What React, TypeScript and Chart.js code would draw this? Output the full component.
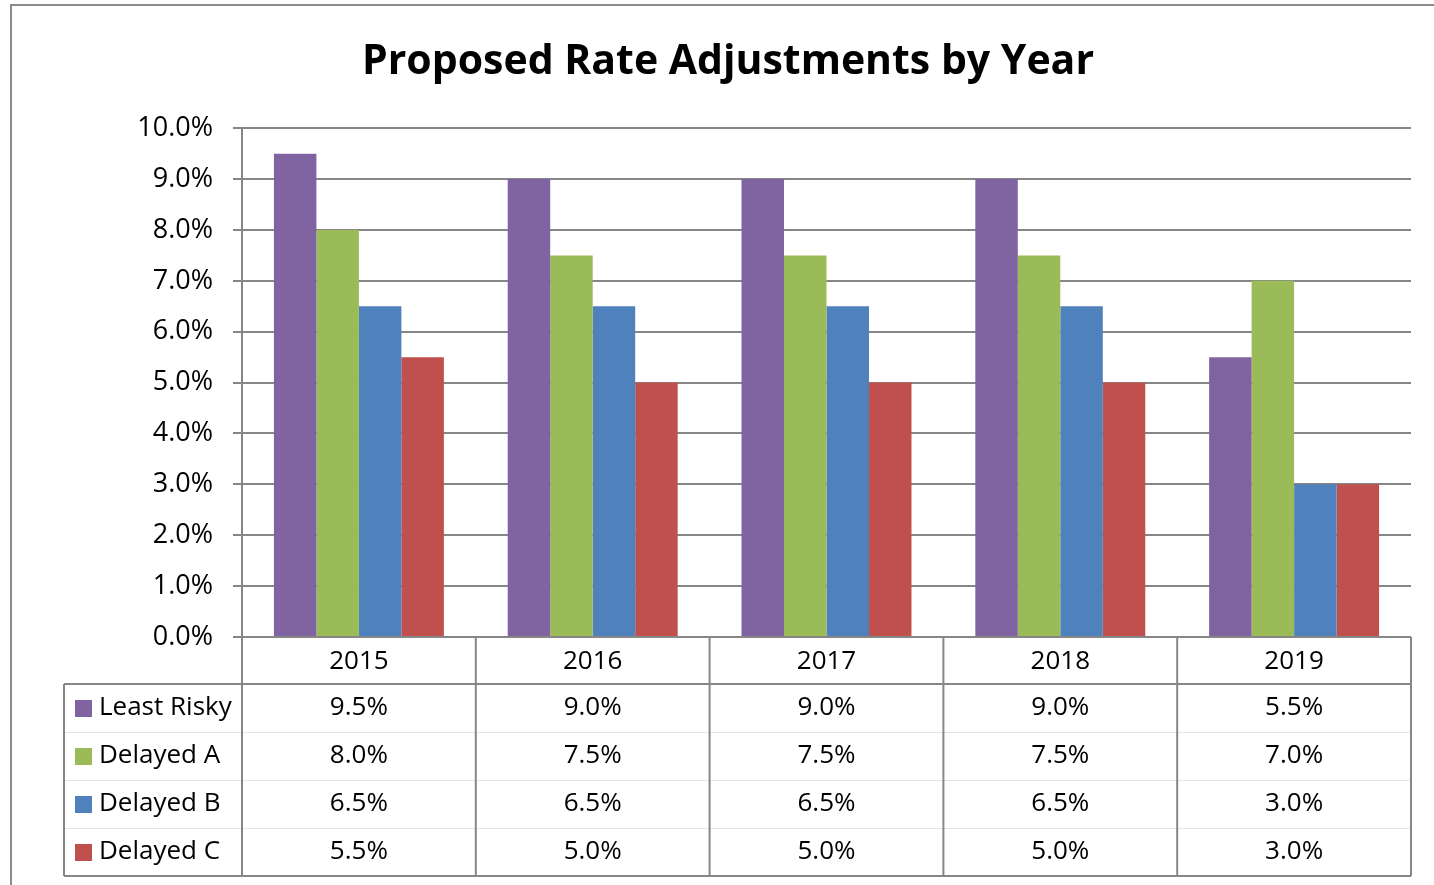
import React, { useEffect, useRef } from "react";
import { Chart, registerables } from "chart.js";

Chart.register(...registerables);

const years = ["2015", "2016", "2017", "2018", "2019"];
const seriesNames = ["Least Risky", "Delayed A", "Delayed B", "Delayed C"];
const seriesColors = ["#8064A2", "#9BBB59", "#4F81BD", "#C0504D"];
const leastRisky = [9.5, 9.0, 9.0, 9.0, 5.5];
const delayedA = [8.0, 7.5, 7.5, 7.5, 7.0];
const delayedB = [6.5, 6.5, 6.5, 6.5, 3.0];
const delayedC = [5.5, 5.0, 5.0, 5.0, 3.0];
const yTicksMin = 0;
const yTicksMax = 10;
const yTicksStep = 1;
const chartTitle = "Proposed Rate Adjustments by Year";

const seriesValues = [leastRisky, delayedA, delayedB, delayedC];
const FONT = "'Open Sans', 'DejaVu Sans', sans-serif";
const GRID = "#868686";

const fmt = (v: number) => v.toFixed(1) + "%";

const framePlugin = {
  id: "frame",
  beforeDraw(chart: any) {
    const ctx = chart.ctx;
    ctx.save();
    ctx.strokeStyle = "#8c8c8c";
    ctx.lineWidth = 2;
    ctx.strokeRect(11, 5, chart.width + 40, chart.height + 40);
    ctx.restore();
  },
};

const tablePlugin = {
  id: "dataTable",
  afterDraw(chart: any) {
    const ctx = chart.ctx;
    const area = chart.chartArea;
    const xs = chart.scales.x;
    const n = years.length;
    const catW = (area.right - area.left) / n;
    const top = area.bottom;
    const headerH = 47;
    const rowH = 48;
    const tableBottom = top + headerH + rowH * seriesNames.length;
    const legendLeft = 64;

    ctx.save();
    ctx.strokeStyle = "#e4e4e4";
    ctx.lineWidth = 1;
    for (let r = 1; r < seriesNames.length; r++) {
      const y = Math.round(top + headerH + rowH * r) + 0.5;
      ctx.beginPath();
      ctx.moveTo(legendLeft, y);
      ctx.lineTo(area.right, y);
      ctx.stroke();
    }

    ctx.strokeStyle = GRID;
    ctx.lineWidth = 2;
    for (let i = 0; i <= n; i++) {
      const x = area.left + catW * i;
      ctx.beginPath();
      ctx.moveTo(x, top);
      ctx.lineTo(x, tableBottom);
      ctx.stroke();
    }
    ctx.beginPath();
    ctx.moveTo(legendLeft, top + headerH);
    ctx.lineTo(area.right, top + headerH);
    ctx.stroke();
    ctx.beginPath();
    ctx.moveTo(legendLeft, tableBottom);
    ctx.lineTo(area.right, tableBottom);
    ctx.stroke();
    ctx.beginPath();
    ctx.moveTo(legendLeft, top + headerH);
    ctx.lineTo(legendLeft, tableBottom);
    ctx.stroke();

    ctx.fillStyle = "#000";
    ctx.font = `26px ${FONT}`;
    ctx.textBaseline = "middle";
    ctx.textAlign = "center";
    for (let i = 0; i < n; i++) {
      const cx = xs.getPixelForValue(i);
      ctx.fillText(years[i], cx, top + headerH / 2 + 1);
      for (let r = 0; r < seriesNames.length; r++) {
        const cy = top + headerH + rowH * r + rowH / 2;
        ctx.fillText(fmt(seriesValues[r][i]), cx, cy);
      }
    }
    ctx.textAlign = "left";
    for (let r = 0; r < seriesNames.length; r++) {
      const cy = top + headerH + rowH * r + rowH / 2;
      ctx.fillStyle = seriesColors[r];
      ctx.fillRect(75, cy - 8, 17, 17);
      ctx.fillStyle = "#000";
      ctx.fillText(seriesNames[r], 99, cy);
    }
    ctx.restore();
  },
};

export default function App() {
  const canvasRef = useRef<HTMLCanvasElement | null>(null);

  useEffect(() => {
    let chart: Chart | null = null;
    let cancelled = false;
    const build = () => {
      if (cancelled || !canvasRef.current) return;
      chart = new Chart(canvasRef.current, {
        type: "bar",
        data: {
          labels: years,
          datasets: seriesNames.map((name, i) => ({
            label: name,
            data: seriesValues[i],
            backgroundColor: seriesColors[i],
            borderWidth: 0,
            categoryPercentage: 0.727,
            barPercentage: 1.0,
          })),
        },
        options: {
          animation: false,
          responsive: true,
          maintainAspectRatio: false,
          layout: { padding: { left: 45, right: 23, top: 30, bottom: 248 } },
          plugins: {
            legend: { display: false },
            tooltip: { enabled: false },
            title: {
              display: true,
              text: chartTitle,
              color: "#000",
              font: { family: FONT, size: 41, weight: "bold" },
              padding: { top: 8, bottom: 41 },
            },
          },
          scales: {
            x: { display: false },
            y: {
              min: yTicksMin,
              max: yTicksMax,
              afterFit: (s: any) => {
                s.width = 197;
              },
              ticks: {
                stepSize: yTicksStep,
                color: "#000",
                padding: 20,
                font: { family: FONT, size: 27 },
                callback: (v: any) => fmt(Number(v)),
              },
              grid: { color: GRID, lineWidth: 2, tickLength: 9, drawTicks: true },
              border: { display: true, color: GRID, width: 2 },
            },
          },
        },
        plugins: [framePlugin, tablePlugin],
      });
    };
    const fonts: any = (document as any).fonts;
    if (fonts && fonts.load) {
      Promise.all([
        fonts.load(`26px 'Open Sans'`),
        fonts.load(`bold 41px 'Open Sans'`),
      ])
        .catch(() => null)
        .then(build);
    } else {
      build();
    }
    return () => {
      cancelled = true;
      if (chart) chart.destroy();
    };
  }, []);

  return (
    <div style={{ position: "fixed", left: 0, top: 0, width: 1434, height: 885, background: "#fff" }}>
      <canvas ref={canvasRef} />
    </div>
  );
}
